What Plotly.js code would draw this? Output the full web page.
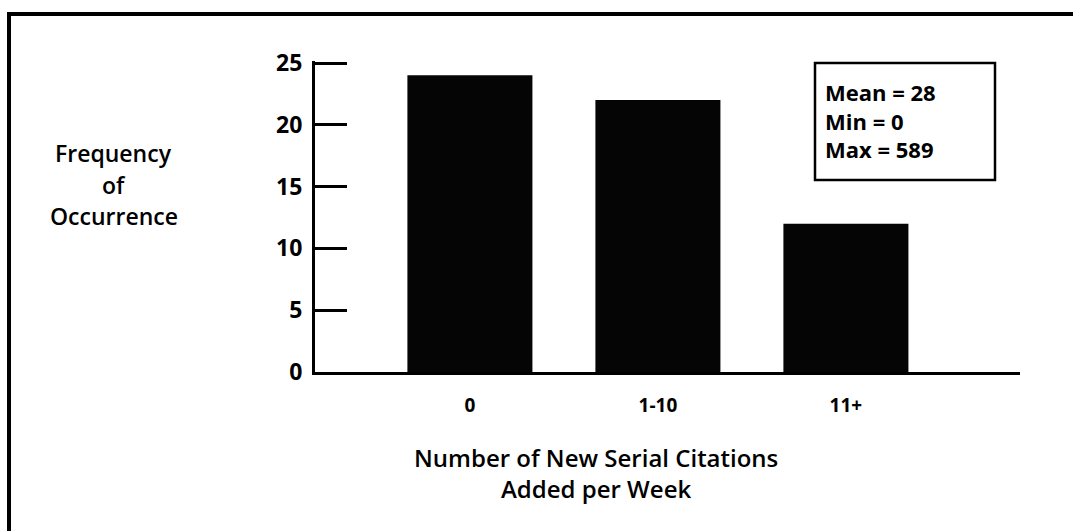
<!DOCTYPE html>
<html>
<head>
<meta charset="utf-8">
<script src="https://cdn.plot.ly/plotly-3.0.1.min.js"></script>
<style>
  html, body { margin: 0; padding: 0; background: #fff; }
  #chart { width: 1073px; height: 531px; }
</style>
</head>
<body>
<div id="chart"></div>
<script>
// Data
const categories = ["0", "1-10", "11+"];
const frequencies = [24, 22, 12];
const yTickValues = [0, 5, 10, 15, 20, 25];
const statLabels = ["Mean", "Min", "Max"];
const statValues = [28, 0, 589];

const FONT = "Open Sans, Noto Sans, sans-serif";

// plot area geometry (pixels)
const L = 315, R = 1020, T = 61, B = 372, W = 1073, H = 531;
const yTop = 25 + (63 - T) / ((B - 63) / 25);   // keep 25 at pixel 63, leave room for its tick
const px = p => (p - L) / (R - L);
const py = p => (B - p) / (B - T);

const trace = {
  type: "bar",
  x: [0, 1, 2],
  y: frequencies,
  width: 0.665,
  marker: { color: "#050505", line: { width: 0 } },
  hoverinfo: "skip"
};

const statText = statLabels.map((lab, i) => "<b>" + lab + " = " + statValues[i] + "</b>").join("<br>");

const layout = {
  width: W, height: H,
  margin: { l: L, r: W - R, t: T, b: H - B, pad: 0 },
  paper_bgcolor: "#fff",
  plot_bgcolor: "#fff",
  showlegend: false,
  xaxis: {
    range: [-0.824, 2.926],
    tickvals: [0, 1, 2],
    ticktext: categories.map(c => "<b>" + c + "</b>"),
    ticks: "",
    showgrid: false,
    zeroline: false,
    showline: true,
    linecolor: "#000",
    linewidth: 3,
    ticklabelstandoff: 14,
    tickfont: { family: FONT, size: 19, color: "#000" },
    fixedrange: true
  },
  yaxis: {
    range: [0, yTop],
    tickvals: yTickValues,
    ticktext: yTickValues.map(v => "<b>" + v + "</b>"),
    ticks: "inside",
    ticklen: 32,
    tickwidth: 3,
    tickcolor: "#000",
    showgrid: false,
    zeroline: false,
    showline: true,
    linecolor: "#000",
    linewidth: 3,
    ticklabelstandoff: 5,
    tickfont: { family: FONT, size: 23, color: "#000" },
    fixedrange: true
  },
  shapes: [
    // outer frame: top and left edges
    { type: "line", xref: "paper", yref: "paper", x0: px(8), x1: px(1073), y0: py(14), y1: py(14),
      line: { color: "#000", width: 4 } },
    { type: "line", xref: "paper", yref: "paper", x0: px(9), x1: px(9), y0: py(12), y1: py(531),
      line: { color: "#000", width: 4 } },
    // statistics box
    { type: "rect", xref: "paper", yref: "paper", x0: px(815), x1: px(995), y0: py(63), y1: py(180),
      line: { color: "#000", width: 2.5 }, fillcolor: "rgba(0,0,0,0)" }
  ],
  annotations: [
    { xref: "paper", yref: "paper", x: px(114), y: py(153), xanchor: "center", yanchor: "middle",
      text: "Frequency", showarrow: false,
      font: { family: FONT, size: 23, color: "#000", weight: 600 } },
    { xref: "paper", yref: "paper", x: px(114), y: py(185), xanchor: "center", yanchor: "middle",
      text: "of", showarrow: false,
      font: { family: FONT, size: 23, color: "#000", weight: 600 } },
    { xref: "paper", yref: "paper", x: px(114), y: py(216), xanchor: "center", yanchor: "middle",
      text: "Occurrence", showarrow: false,
      font: { family: FONT, size: 23, color: "#000", weight: 600 } },
    { xref: "paper", yref: "paper", x: px(596), y: py(458), xanchor: "center", yanchor: "middle",
      text: "Number of New Serial Citations", showarrow: false,
      font: { family: FONT, size: 24, color: "#000", weight: 600 } },
    { xref: "paper", yref: "paper", x: px(596), y: py(488), xanchor: "center", yanchor: "middle",
      text: "Added per Week", showarrow: false,
      font: { family: FONT, size: 24, color: "#000", weight: 600 } },
    { xref: "paper", yref: "paper", x: px(823), y: py(121), xanchor: "left", yanchor: "middle",
      text: statText, showarrow: false, align: "left",
      font: { family: FONT, size: 22, color: "#000" } }
  ]
};

Plotly.newPlot("chart", [trace], layout, { displayModeBar: false, staticPlot: true });
</script>
</body>
</html>
